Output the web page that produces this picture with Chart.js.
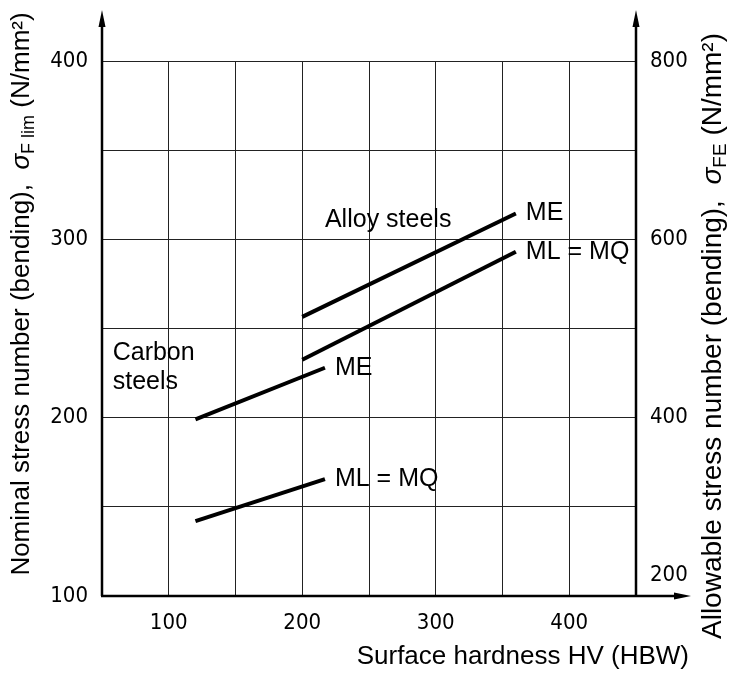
<!DOCTYPE html>
<html>
<head>
<meta charset="utf-8">
<script src="https://cdn.jsdelivr.net/npm/chart.js@4.4.0/dist/chart.umd.min.js"></script>
<style>
  html, body { margin: 0; padding: 0; background: #fff; }
  #wrap { width: 731px; height: 673px; }
</style>
</head>
<body>
<div id="wrap"><canvas id="chart" width="731" height="673"></canvas></div>
<script>
// hardness HV (HBW) at both ends of each line
const carbonHardness = [120, 217];
const alloyHardness = [200, 360];

// nominal stress number sigma F lim (N/mm2)
const carbonMLMQ = [142, 165.5];
const carbonME = [199, 228];
const alloyMLMQ = [232.5, 293];
const alloyME = [256.5, 314.5];

// tick labels
const xTicks = [100, 200, 300, 400];
const leftTicks = [100, 200, 300, 400];
const rightTicks = [200, 400, 600, 800];

// text placed in the plot (data coordinates)
const groupLabels = [
    { lines: ['Alloy steels'], x: 217, y: 311 },
    { lines: ['Carbon', 'steels'], x: 58, y: 236 }
];

const textFont = '"Liberation Sans", Arial, sans-serif';
const tickFont = { family: '"DejaVu Sans Condensed", sans-serif', size: 22 };

function points(xs, ys) {
    return xs.map((x, i) => ({ x: x, y: ys[i] }));
}

function series(name, xs, ys) {
    return {
        label: name,
        data: points(xs, ys),
        borderColor: '#000',
        borderWidth: 4,
        borderCapStyle: 'butt',
        pointRadius: 0,
        fill: false
    };
}

// draws a text made of parts, some of them subscripts, centred at (x, y) and rotated
function drawRichText(ctx, parts, x, y, angle, size) {
    const fonts = {
        normal: size + 'px ' + textFont,
        italic: 'italic ' + size + 'px ' + textFont,
        sub: Math.round(size * 0.68) + 'px ' + textFont
    };
    let total = 0;
    parts.forEach(p => {
        ctx.font = fonts[p[1]];
        total += ctx.measureText(p[0]).width;
    });
    ctx.save();
    ctx.translate(x, y);
    ctx.rotate(angle);
    ctx.textBaseline = 'middle';
    ctx.textAlign = 'left';
    let pos = -total / 2;
    parts.forEach(p => {
        ctx.font = fonts[p[1]];
        const dy = p[1] === 'sub' ? size * 0.28 : 0;
        ctx.fillText(p[0], pos, dy);
        pos += ctx.measureText(p[0]).width;
    });
    ctx.restore();
}

function arrowHead(ctx, x, y, dir) {
    ctx.beginPath();
    if (dir === 'up') {
        ctx.moveTo(x, y);
        ctx.lineTo(x - 3.5, y + 17);
        ctx.lineTo(x + 3.5, y + 17);
    } else {
        ctx.moveTo(x, y);
        ctx.lineTo(x - 17, y - 3.5);
        ctx.lineTo(x - 17, y + 3.5);
    }
    ctx.closePath();
    ctx.fill();
}

const decor = {
    id: 'decor',
    afterDraw(chart) {
        const ctx = chart.ctx;
        const a = chart.chartArea;
        const y2 = chart.scales.y2;
        ctx.save();
        ctx.fillStyle = '#000';
        ctx.strokeStyle = '#000';

        // axes with arrows
        const topTip = a.top - 51;
        const rightTip = a.right + 55;
        ctx.lineWidth = 2.5;
        ctx.beginPath();
        ctx.moveTo(a.left, a.bottom);
        ctx.lineTo(a.left, topTip + 10);
        ctx.moveTo(a.right, a.bottom);
        ctx.lineTo(a.right, topTip + 10);
        ctx.moveTo(a.left - 1, a.bottom);
        ctx.lineTo(rightTip - 10, a.bottom);
        ctx.stroke();
        arrowHead(ctx, a.left, topTip, 'up');
        arrowHead(ctx, a.right, topTip, 'up');
        arrowHead(ctx, rightTip, a.bottom, 'right');

        // right axis tick labels (the lowest one sits above the arrow line)
        ctx.font = tickFont.size + 'px ' + tickFont.family;
        ctx.textAlign = 'left';
        ctx.textBaseline = 'middle';
        rightTicks.forEach(v => {
            let py = y2.getPixelForValue(v);
            if (v === y2.min) py -= 21;
            ctx.fillText(String(v), a.right + 14, py);
        });

        // line names at the end of each line
        ctx.font = '25px ' + textFont;
        chart.data.datasets.forEach((ds, i) => {
            const meta = chart.getDatasetMeta(i);
            const last = meta.data[meta.data.length - 1];
            ctx.fillText(ds.label, last.x + 10, last.y);
        });

        // group names
        groupLabels.forEach(g => {
            const px = chart.scales.x.getPixelForValue(g.x);
            const py = chart.scales.y.getPixelForValue(g.y);
            g.lines.forEach((t, k) => ctx.fillText(t, px, py + k * 29));
        });

        // axis titles
        ctx.textAlign = 'right';
        ctx.font = '26px ' + textFont;
        ctx.fillText('Surface hardness HV (HBW)', rightTip - 2, 657);
        drawRichText(ctx, [
            ['Nominal stress number (bending),  ', 'normal'],
            ['σ', 'italic'],
            ['F lim', 'sub'],
            [' (N/mm²)', 'normal']
        ], 22, 294, -Math.PI / 2, 26);
        drawRichText(ctx, [
            ['Allowable stress number (bending),  ', 'normal'],
            ['σ', 'italic'],
            ['FE', 'sub'],
            [' (N/mm²)', 'normal']
        ], 713, 336, -Math.PI / 2, 28);
        ctx.restore();
    }
};

const ctx = document.getElementById('chart').getContext('2d');
new Chart(ctx, {
    type: 'line',
    data: {
        datasets: [
            series('ME', alloyHardness, alloyME),
            series('ML = MQ', alloyHardness, alloyMLMQ),
            series('ME', carbonHardness, carbonME),
            series('ML = MQ', carbonHardness, carbonMLMQ)
        ]
    },
    options: {
        responsive: false,
        animation: false,
        layout: { padding: { top: 61, left: 0, right: 0, bottom: 0 } },
        plugins: { legend: { display: false }, tooltip: { enabled: false } },
        scales: {
            x: {
                type: 'linear',
                min: 50,
                max: 450,
                border: { display: false },
                grid: { color: '#222', lineWidth: 1, drawTicks: false },
                ticks: {
                    stepSize: 50,
                    autoSkip: false,
                    maxRotation: 0,
                    padding: 14,
                    color: '#000',
                    font: tickFont,
                    callback: v => xTicks.includes(v) ? String(v) : ''
                },
                afterFit: s => { s.height = 77; }
            },
            y: {
                position: 'left',
                min: 100,
                max: 400,
                border: { display: false },
                grid: { color: '#222', lineWidth: 1, drawTicks: false },
                ticks: {
                    stepSize: 50,
                    autoSkip: false,
                    padding: 14,
                    color: '#000',
                    font: tickFont,
                    callback: v => leftTicks.includes(v) ? String(v) : ''
                },
                afterFit: s => { s.width = 102; }
            },
            y2: {
                position: 'right',
                min: 200,
                max: 800,
                border: { display: false },
                grid: { display: false },
                ticks: { display: false },
                afterFit: s => { s.width = 95; }
            }
        }
    },
    plugins: [decor]
});
</script>
</body>
</html>
